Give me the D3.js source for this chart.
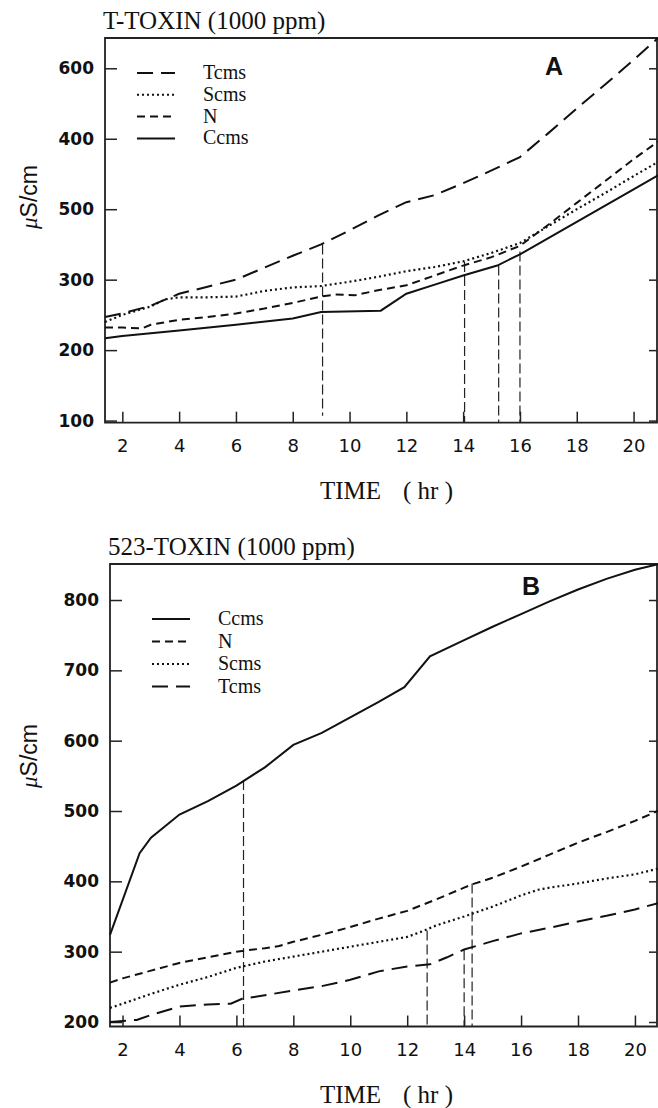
<!DOCTYPE html>
<html>
<head>
<meta charset="utf-8">
<script src="https://cdn.jsdelivr.net/npm/d3@7"></script>
<style>
	body { margin: 0; background: #fff; }
	svg { display: block; }
</style>
</head>
<body>
<div id="chart"></div>
<script>
// x axis (hours), shared by both panels
const hourTicks = [2, 4, 6, 8, 10, 12, 14, 16, 18, 20]

// panel A: T-TOXIN, values as [hr, uS/cm]
const yTicksA = [100, 200, 300, 400, 500, 600]
// the original prints 400 and 500 the other way round
const yLabelsA = ["100", "200", "300", "500", "400", "600"]
const legendA = ["Tcms", "Scms", "N", "Ccms"]

const tcmsA = [[1.39, 247], [2, 252], [3, 263], [4, 280], [5, 290], [6, 300], [7, 317], [8, 334], [9, 350], [10, 370], [11, 391], [12, 410], [13, 420], [14, 437], [15, 455], [16, 474], [17, 508], [18, 543], [19, 577], [20, 612], [20.86, 643]]
const scmsA = [[1.39, 240], [2, 250], [3, 262], [3.5, 272], [4, 275], [5, 275], [6, 276], [7, 284], [8, 289], [9, 291], [10, 297], [11, 304], [12, 312], [13, 318], [14, 326], [15, 338], [16, 352], [17, 376], [18, 400], [19, 423], [20, 447], [20.86, 467]]
const nA = [[1.39, 232], [2, 232], [2.7, 231], [3, 236], [4, 243], [5, 247], [6, 252], [7, 259], [8, 267], [9, 276], [9.5, 279], [10.2, 278], [11, 285], [12, 292], [13, 306], [14, 320], [15, 332], [16, 348], [17, 378], [18, 409], [19, 440], [20, 471], [20.86, 496]]
const ccmsA = [[1.39, 217], [2, 220], [4, 228], [6, 236], [8, 245], [9, 254], [11.1, 256], [12, 280], [13, 293], [14, 306], [15.2, 320], [16, 336], [17, 359], [18, 382], [19, 405], [20, 428], [20.86, 448]]
// vertical guide lines: [hr, from, to]
const guidesA = [[9.05, 350, 107], [14.05, 325, 97], [15.25, 320, 97], [16.0, 340, 97]]

// panel B: 523-TOXIN
const yTicksB = [200, 300, 400, 500, 600, 700, 800]
const yLabelsB = ["200", "300", "400", "500", "600", "700", "800"]
const legendB = ["Ccms", "N", "Scms", "Tcms"]

const ccmsB = [[1.56, 324], [2.6, 440], [3, 462], [4, 495], [5, 514], [6, 536], [6.3, 544], [7, 562], [8, 594], [9, 611], [10, 633], [11, 655], [11.9, 676], [12.8, 720], [14, 743], [15, 762], [16, 780], [17, 798], [18, 815], [19, 830], [20, 843], [20.81, 851]]
const nB = [[1.56, 256], [2, 262], [3, 273], [4, 284], [5, 292], [6, 300], [7, 305], [7.5, 308], [8, 314], [9, 324], [10, 335], [11, 347], [12, 358], [13, 374], [14, 391], [14.3, 396], [15, 405], [16, 421], [17, 438], [18, 455], [19, 470], [20, 486], [20.81, 500]]
const scmsB = [[1.56, 220], [2, 226], [3, 240], [4, 253], [5, 264], [6, 277], [7, 286], [8, 293], [9, 300], [10, 307], [11, 314], [12, 321], [12.6, 330], [13, 337], [14, 350], [15, 364], [16, 380], [16.6, 388], [17, 391], [18, 397], [19, 404], [20, 410], [20.81, 418]]
const tcmsB = [[1.56, 200], [2.5, 203], [3, 210], [4, 222], [5, 225], [5.8, 226], [6.2, 233], [7, 238], [8, 245], [9, 251], [10, 260], [11, 272], [12, 279], [12.8, 282], [13.4, 292], [14, 303], [15, 315], [16, 326], [17, 334], [18, 343], [19, 351], [20, 360], [20.81, 369]]
const guidesB = [[6.25, 544, 194], [12.7, 330, 194], [14.0, 302, 194], [14.28, 397, 194]]

// line looks per strain
const dashes = { Tcms: "16,8", Scms: "2,3", N: "8,5", Ccms: null }

const svg = d3.select("#chart")
	.append("svg")
	.attr("width", 658)
	.attr("height", 1108)

function drawPanel(p) {
	const x = d3.scaleLinear().domain(p.xDomain).range([p.left, p.right])
	const y = d3.scaleLinear().domain(p.yDomain).range([p.bottom, p.top])
	const g = svg.append("g")

	// left axis, ticks pointing inside
	const left = g.append("g")
		.attr("transform", `translate(${p.left},0)`)
		.call(d3.axisLeft(y).tickValues(p.yTicks).tickSize(-12).tickPadding(11)
			.tickFormat((d, i) => p.yLabels[i]))
	left.select(".domain").remove()
	left.selectAll("line").attr("stroke", "#222").attr("stroke-width", 1.5)
	left.selectAll("text")
		.attr("font-family", "DejaVu Sans")
		.attr("font-weight", "bold")
		.attr("font-size", 17)
		.attr("fill", "#111")

	// right side ticks
	const right = g.append("g")
		.attr("transform", `translate(${p.right - 1},0)`)
		.call(d3.axisLeft(y).tickValues(p.yTicks).tickSize(8).tickFormat(""))
	right.select(".domain").remove()
	right.selectAll("line").attr("stroke", "#222").attr("stroke-width", 1.5)

	// bottom axis
	const bottom = g.append("g")
		.attr("transform", `translate(0,${p.bottom})`)
		.call(d3.axisBottom(x).tickValues(hourTicks).tickSize(-11).tickPadding(17))
	bottom.select(".domain").remove()
	bottom.selectAll("line").attr("stroke", "#222").attr("stroke-width", 1.5)
	bottom.selectAll("text")
		.attr("font-family", "DejaVu Sans")
		.attr("font-size", 18)
		.attr("fill", "#111")

	// frame
	g.append("path")
		.attr("d", `M${p.left},${p.top}H${p.right - 1}V${p.bottom}H${p.left}Z`)
		.attr("fill", "none")
		.attr("stroke", "#222")
		.attr("stroke-width", 1.8)

	// guide lines
	g.selectAll(".guide")
		.data(p.guides)
		.enter()
		.append("line")
		.attr("class", "guide")
		.attr("x1", (d) => x(d[0]))
		.attr("x2", (d) => x(d[0]))
		.attr("y1", (d) => y(d[1]))
		.attr("y2", (d) => y(d[2]))
		.attr("stroke", "#222")
		.attr("stroke-width", 1.2)
		.attr("stroke-dasharray", "10,4")

	// series
	const line = d3.line().x((d) => x(d[0])).y((d) => y(d[1]))
	p.series.forEach((s) => {
		g.append("path")
			.datum(s.values)
			.attr("d", line)
			.attr("fill", "none")
			.attr("stroke", "#111")
			.attr("stroke-width", s.name === "Scms" ? 2.2 : 2)
			.attr("stroke-dasharray", dashes[s.name])
	})

	// legend
	p.legend.forEach((name, i) => {
		const ly = p.legendY + i * p.legendStep
		g.append("line")
			.attr("x1", p.legendX)
			.attr("x2", p.legendX + 38)
			.attr("y1", ly)
			.attr("y2", ly)
			.attr("stroke", "#111")
			.attr("stroke-width", 2)
			.attr("stroke-dasharray", dashes[name])
		g.append("text")
			.attr("x", p.legendX + 66)
			.attr("y", ly + 6)
			.attr("font-family", "Liberation Serif")
			.attr("font-size", 20)
			.attr("fill", "#111")
			.text(name)
	})

	// title
	g.append("text")
		.attr("x", p.left - 2)
		.attr("y", p.top - 9)
		.attr("font-family", "Liberation Serif")
		.attr("font-size", 25)
		.attr("fill", "#111")
		.text(p.title)

	// panel letter
	g.append("text")
		.attr("x", p.letterX)
		.attr("y", p.letterY)
		.attr("text-anchor", "middle")
		.attr("font-family", "Liberation Sans")
		.attr("font-weight", "bold")
		.attr("font-size", 25)
		.attr("fill", "#111")
		.text(p.letter)

	// y label
	const yl = g.append("text")
		.attr("transform", `translate(37,${p.yLabelY}) rotate(-90)`)
		.attr("text-anchor", "middle")
		.attr("font-family", "Liberation Sans")
		.attr("font-size", 23)
		.attr("fill", "#111")
	yl.append("tspan").attr("font-family", "Liberation Serif").attr("font-style", "italic").text("\u03bc")
	yl.append("tspan").text("S/cm")

	// x label
	g.append("text")
		.attr("x", 320)
		.attr("y", p.bottom + 76)
		.attr("font-family", "Liberation Serif")
		.attr("font-size", 25)
		.attr("fill", "#111")
		.text("TIME")
	g.append("text")
		.attr("x", 403)
		.attr("y", p.bottom + 76)
		.attr("font-family", "Liberation Serif")
		.attr("font-size", 25)
		.attr("fill", "#111")
		.text("( hr )")
}

drawPanel({
	title: "T-TOXIN (1000 ppm)",
	letter: "A",
	letterX: 554,
	letterY: 75,
	left: 105,
	right: 658,
	top: 38,
	bottom: 422.7,
	xDomain: [1.39, 20.86],
	yDomain: [97, 643],
	yTicks: yTicksA,
	yLabels: yLabelsA,
	yLabelY: 197,
	guides: guidesA,
	legend: legendA,
	legendX: 137,
	legendY: 73,
	legendStep: 21.8,
	series: [
		{ name: "Tcms", values: tcmsA },
		{ name: "Scms", values: scmsA },
		{ name: "N", values: nA },
		{ name: "Ccms", values: ccmsA },
	],
})

drawPanel({
	title: "523-TOXIN (1000 ppm)",
	letter: "B",
	letterX: 531,
	letterY: 595,
	left: 110,
	right: 658,
	top: 564,
	bottom: 1026.5,
	xDomain: [1.56, 20.81],
	yDomain: [193.6, 851.2],
	yTicks: yTicksB,
	yLabels: yLabelsB,
	yLabelY: 756,
	guides: guidesB,
	legend: legendB,
	legendX: 152,
	legendY: 619,
	legendStep: 22.5,
	series: [
		{ name: "Ccms", values: ccmsB },
		{ name: "N", values: nB },
		{ name: "Scms", values: scmsB },
		{ name: "Tcms", values: tcmsB },
	],
})
</script>
</body>
</html>
